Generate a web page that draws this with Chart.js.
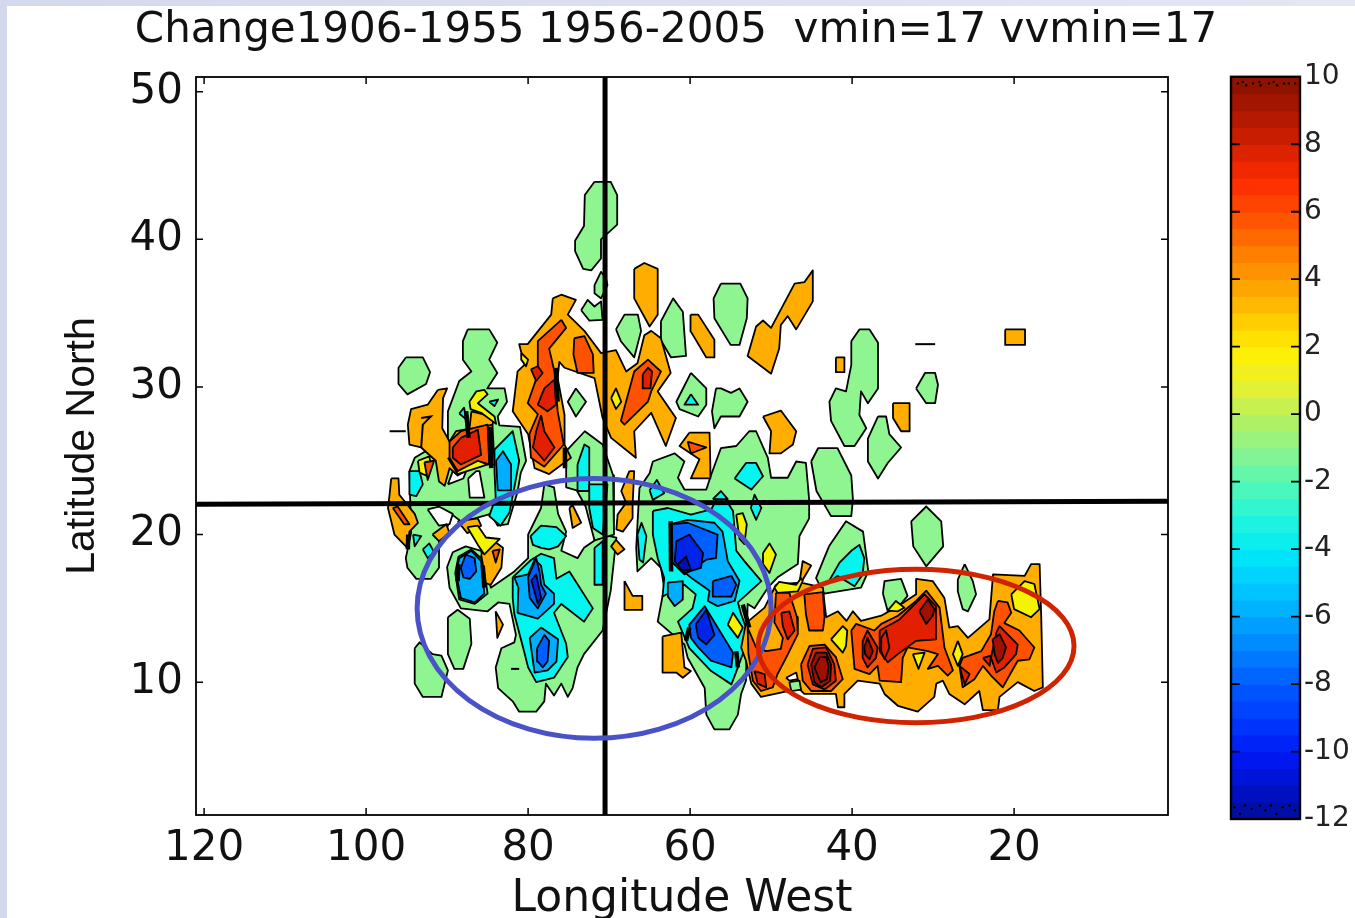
<!DOCTYPE html>
<html><head><meta charset="utf-8">
<style>
html,body{margin:0;padding:0;width:1355px;height:918px;overflow:hidden;background:#fff}
#bgTop{position:absolute;left:0;top:0;width:1355px;height:6px;background:linear-gradient(90deg,#d3d9ec,#e4e7f2)}
#bgLeft{position:absolute;left:0;top:0;width:7px;height:918px;background:#d3d9ec}
#main{position:absolute;left:7px;top:6px;filter:blur(0.5px)}
#bar{position:absolute;left:1200px;top:56px;filter:blur(0.5px)}
</style>
<script src="https://cdn.jsdelivr.net/npm/chart.js@4"></script>
</head><body>
<div id="bgTop"></div><div id="bgLeft"></div>
<canvas id="main" width="1338" height="920"></canvas>
<canvas id="bar" width="155" height="790"></canvas>
<script>
const titleText = "Change1906-1955 1956-2005  vmin=17 vvmin=17";
const xTitle = "Longitude West", yTitle = "Latitude North";
const lonTicks = [120,100,80,60,40,20];
const latTicks = [10,20,30,40,50];
const barTicks = [10,8,6,4,2,0,-2,-4,-6,-8,-10,-12];

// contour regions, [longitude west, latitude north], per level
const levelM1 = [
 [[71.8,43.9],[69.8,43.9],[69,43],[69,41],[71,40],[71,38.7],[72.2,37.9],[73.2,38],[74.2,39.2],[74.2,39.9],[73.1,40.9],[73,43]],
 [[95.1,32],[93,32],[92.1,31],[92.6,30.2],[94.9,29.5],[96,30.2],[96,31.3]],
 [[87.45,33.9],[84.8,33.9],[83.8,33],[84.8,31.85],[83.8,30.95],[85.05,29.9],[82.9,29.9],[82.6,29],[83.75,28],[83.55,27.4],[81,27.3],[80.25,25],[80.9,24.2],[81.3,22.9],[82.5,20.7],[83.75,20.6],[84.6,21.4],[86.6,21.1],[88.3,20.9],[89.5,21.4],[89.9,20.6],[91,19.55],[91,17.75],[92,17],[93.8,17],[94.9,17.75],[95.1,18.4],[94.45,20.1],[94.65,24.3],[94,25.2],[89.9,26.55],[89.9,28.35],[88.5,30.4],[87,31.05],[88.05,31.85],[88.05,33.1]],
 [[78,23.4],[76.8,23.2],[76.3,21.4],[75.3,20.2],[75.9,18.9],[73.9,18.4],[73.1,19.1],[71.8,19.6],[70.8,20],[69.1,19.8],[69.8,16.2],[70.8,13.5],[73.1,11.9],[73.9,11],[74.5,9.6],[75.1,9],[75.9,9.9],[76.8,9.1],[77.8,9.9],[78,8.7],[79,8],[81.1,8],[81.9,8.7],[83.7,9.6],[84,11],[83.3,12.3],[81.7,12.7],[81.5,13.2],[82.3,15.3],[83.7,15.4],[85,14.8],[88.3,15],[89.7,16.4],[90,17.8],[89.3,18.8],[87.7,19.2],[85.8,18.9],[84.6,16.4],[81.7,17.5],[80,18.4],[80,20],[78.4,21.8]],
 [[75.3,25.65],[73,27],[70.8,26.1],[69.5,24],[69.4,20],[71.8,19.6],[72.9,21.9],[74,23],[75.3,23.2]],
 [[89.9,14.4],[88.7,14.9],[87.2,14.3],[87,12.6],[88,10.9],[89.1,10.9],[89.9,11.9]],
 [[94,12.3],[93.4,12.7],[91.8,11.9],[90.7,11.8],[89.9,10.8],[90.7,9],[93,9],[94,9.9]],
 [[74.1,29.9],[72.85,29],[74.1,28],[75.1,29]],
 [[73.45,35.2],[72.65,35.9],[71.8,35.45],[71,35.8],[70.8,34.55],[72.45,34.5]],
 [[71.8,36.9],[71,37.8],[70.4,37.4],[70.2,36.9],[71,36],[71.8,36.35]],
 [[69.15,33.9],[68.1,34.9],[66.45,34.9],[66.05,33.8],[66.9,32],[68.55,33.1]],
 [[63.6,34.45],[62.1,36],[60.9,35.1],[60.5,32.1],[62.35,32],[63.65,33.2]],
 [[56.2,37],[53.8,37],[52.9,36],[53,34.66],[53.9,32.85],[55,32.85],[57,34.66],[57.1,36]],
 [[56.8,29.9],[56.2,29.9],[54.95,29.6],[53.9,29.9],[52.9,29],[53.9,28],[56.2,28],[57,27.2],[57.3,28.35]],
 [[59.9,30.95],[58,29.9],[58,28.8],[59,28],[61.3,28.5],[61.7,29]],
 [[65,24.15],[64.6,24.95],[61.9,25.5],[60.7,24.95],[61.5,23.85],[60.7,23.05],[58,23.05],[57.4,24.05],[56.2,25.85],[54.3,26],[52.7,27],[51.85,27],[50.4,25.2],[50,23.85],[47.95,23.85],[46.9,24.95],[45.7,24.85],[45.3,22.35],[45.3,21.1],[46.5,19.9],[46.7,18],[49.2,17.1],[50.4,16.4],[52.05,15],[52.9,15.3],[53.1,10.1],[53.7,9.2],[54.1,7.8],[55.15,6.8],[57,6.8],[58,7.8],[58.2,9.6],[60.3,11.65],[60.7,12.55],[64,14.1],[63.2,16.4],[63.6,17.75],[64.8,18.4],[66.5,17.5],[66.65,19.1],[66.5,20.7],[66.25,23.15]],
 [[45.05,24.95],[44.2,25.85],[41.8,25.85],[40.1,24],[39.9,22.4],[40.1,21.25],[42.6,21.25],[44.4,22.95]],
 [[42.85,19.2],[40.75,20.9],[38.65,20.2],[38,17.5],[38.9,16.4],[43.45,16],[44.45,17.05],[43.6,18.2]],
 [[32.7,20.9],[30.85,21.9],[29,20.9],[28.75,19.2],[30.85,17.85],[32.45,19.2]],
 [[40.1,33.1],[39.1,33.9],[37.85,33.9],[36.8,33],[36.8,29.9],[38.05,28.9],[38.9,29.7],[39.1,28.1],[38.25,27.2],[39.7,26],[40.95,26],[42.6,27.7],[42.8,29],[42,29.9],[40.75,29.7],[40.1,31.5]],
 [[36.8,28],[35.8,28],[35.4,26.8],[33.95,25.9],[35.6,24.85],[36.8,23.8],[38.05,24.95],[38.05,26.5]],
 [[32.1,29.9],[31,30.95],[29.75,30.95],[29.4,30.15],[29.75,28.9],[30.85,28.9]],
 [[36.2,16],[36,16.85],[33.95,17],[33.15,15.85],[34.35,15.05],[35.6,14.8]],
 [[26.1,18],[25.1,16.85],[24.7,15.95],[25.7,14.8],[26.35,14.95],[26.95,16.15],[26.95,16.95]]
];
const gaps = [
 [[92.4,21.7],[91,21.9],[89.3,21.4],[89.7,20.7],[91,20.6]],
 [[89.9,23.4],[88,23.8],[87.65,24.3],[89.3,24.3]],
 [[87.4,23.8],[86.4,24.3],[86,24.3],[85.4,22.5],[87.2,22.5]]
];
const levelM3 = [
 [[79.7,19.9],[78.4,20.6],[76.5,20.5],[75.3,19.9],[76.3,19.2],[77.4,19],[78.4,19.1],[79.4,19.3]],
 [[81.9,17.1],[79.6,18.3],[78.4,18.7],[76.8,18.4],[76.5,17],[74.9,17.5],[72,15],[73.1,14.1],[75.9,15.3],[76.8,14.7],[75.3,12.6],[75.1,11.7],[76.8,10.3],[79,10],[80,11],[80.5,12.1],[81.7,14.6],[81.9,15.7]],
 [[89,17.4],[88.6,18.5],[87,19],[85.6,18.3],[85,16],[86.6,15.3],[88.5,15.6]],
 [[94.65,24.3],[93.4,24.3],[93,23.4],[93.8,22.6],[94.65,22.7]],
 [[93,19],[92.2,19.4],[91.6,18.8],[92.4,18.4]],
 [[94.2,20],[93.2,19.9],[94,19.2]],
 [[84.15,25.75],[81.9,27],[81.1,25],[81.7,23.2],[82.3,21.5],[83.4,20.6],[84.8,21.25],[84,22.5],[84.15,24.3]],
 [[84.8,29],[83.7,29.15],[84.15,28.7]],
 [[88.5,28.2],[87.9,28.6],[87.65,27.8]],
 [[73.9,24.75],[73.05,26.1],[72.45,25.9],[72.45,22.95],[73.9,22.95]],
 [[72.45,23.4],[70.2,23.4],[70.8,20],[72,20.45],[72.45,21.8]],
 [[71.8,19.1],[70.8,19.55],[70.8,16.6],[71.8,16.6]],
 [[59.9,29.5],[59,28.8],[60.7,28.8]],
 [[64.6,21.6],[62.75,21.8],[59.9,21.35],[57.4,21.7],[56.2,22.9],[54.7,21.6],[54.3,18.9],[53.3,18.2],[51.2,16.85],[53.1,15.9],[54.1,15.4],[53.7,14.6],[52.7,13.1],[54.1,11],[54.9,9.85],[57.4,10.75],[60.1,12.3],[61.5,14.1],[59.7,15],[59.3,15.95],[60.7,16.6],[63.4,15.8],[63.2,17.05],[64,18.4],[64.6,20]],
 [[66.5,20],[66,20.8],[65.4,19.9],[65.8,18.1],[66.25,18.3]],
 [[54.5,23.8],[53.1,24.85],[51.85,24.85],[51,23.95],[52.45,23.05]],
 [[65,23],[64.1,23.7],[63.2,22.8],[64.6,22.35]],
 [[57.2,22.4],[56.2,22.95],[55.35,22.4]],
 [[52.5,21.8],[52.05,22.7],[51.2,21.8],[51.85,21]],
 [[43,16.7],[41.55,18.1],[40.1,18.9],[39.1,19.3],[38.5,18.4],[38.7,17.3],[39.7,16.5],[41.8,17.2]]
];
const levelM5 = [
 [[81.7,17.1],[80,17.3],[79.2,18.3],[78.4,17.9],[78,16.6],[76.8,16],[76.8,15.3],[78.8,14.3],[81.3,14.7],[81.2,16.4]],
 [[79.8,13],[78.4,13.7],[76.3,12.9],[76.5,11.4],[77.6,10.8],[79.2,10.65]],
 [[88.9,17.4],[88.5,18.4],[87,18.9],[85.8,18.2],[85.4,16],[86.6,15.4],[88.3,15.7]],
 [[83.95,25],[83.1,25.65],[82.1,24.75],[82.1,23],[83.75,23]],
 [[62.35,20.7],[60.3,21],[57,20.8],[56,20.2],[55.35,18.2],[53.9,16.85],[54.5,15.5],[56.6,15.15],[57.8,15.5],[57.6,16.2],[59.7,17],[62.35,18.2]],
 [[62.75,16.75],[60.9,16.85],[60.9,15.6],[61.9,15.15],[62.75,15.8]]
];
const levelM7 = [
 [[80,17.1],[79,18.4],[78.6,17.5],[78.4,16.6],[77.8,16],[78.8,15],[79.8,15.7]],
 [[78.9,12.3],[78,13.2],[77.4,12.8],[77.6,11.4],[78.2,11],[78.8,11.4]],
 [[88.3,17.75],[87.7,18.65],[86.6,18.4],[86.4,17.5],[87.2,17],[88,17.1]],
 [[62.35,20.7],[60.3,20.8],[56.6,20],[56.8,18.4],[58,18.3],[60.7,17.3],[62.35,18.2]],
 [[57.2,16.85],[54.9,17.2],[54.3,16.6],[54.9,15.8],[57.2,15.8]],
 [[59.9,13],[60.1,13.9],[58.2,15.15],[56.6,13.7],[54.7,12],[54.9,11],[57.4,11.45],[59,12.35]]
];
const levelM9 = [
 [[79.6,16.9],[79,17.3],[78.4,15.7],[78.8,15.3]],
 [[61.7,19.55],[60.1,20],[58.4,18.75],[58.65,17.75],[60.7,17.4],[61.9,18.2]],
 [[59.3,13.9],[58,14.9],[57,13.2],[58,12.55],[59,13]]
];
const levelM11 = [
 [[61.5,18],[60.5,18.5],[59.9,17.6],[61.1,17.6]]
];
const level3 = [
 [[91.15,29.8],[90,29.9],[90.5,29.25],[90.6,27.2],[89.7,26.3],[88.9,27],[87,27.2],[85,27.6],[84.4,27.45],[84.15,24.75],[86.2,24.75],[88.7,24],[89.7,24.5],[90.3,23.3],[91,23.6],[91.4,25],[93.2,25.9],[94.65,26.1],[94.85,27.45],[94.45,28.5],[92.4,28.8]],
 [[87,28.35],[84.15,27.95],[84.4,27.45],[87.25,27.1]],
 [[76.95,36],[75.9,36.25],[74.1,35.9],[75.1,34.9],[73.05,33.8],[71,32.3],[69.15,32.5],[67.9,31.05],[66.5,31.6],[65.65,33.5],[64.8,33.8],[63.6,33.3],[62.4,30.95],[64,29.7],[61.75,27.9],[63,26],[64.8,28.25],[66.9,27],[66.7,25.2],[69.75,26.55],[70.8,27.9],[71.8,30.6],[75.5,31.3],[76.15,31.7],[76.35,30.6],[75.5,28.1],[75.5,26.1],[74.7,25.2],[77.4,24.1],[79.2,24.5],[80,26.8],[81.9,28.35],[81.3,31.05],[80.45,31.5],[81.1,32.9],[80.05,32.9],[77.15,34.9]],
 [[66.9,38],[65.65,38.4],[64,38],[64,34.9],[65,34.1],[66.9,36]],
 [[59.95,34.9],[59,34.9],[57,33.2],[57,32],[58,32],[59.9,33.75]],
 [[44.85,37.9],[44.85,35.8],[46.9,33.9],[47.95,34.8],[48.8,34.2],[49,32.6],[50,30.9],[52.9,32.1],[51.85,34.1],[51,34.5],[50,34],[47.1,37],[45.9,37.1]],
 [[51,28],[48.8,28.4],[46.9,27],[47.3,26.1],[48.8,25.5],[50.2,25.5],[50,27]],
 [[60.1,26.9],[57.6,26.9],[57.5,24.7],[57.5,23.8],[59.9,23.8],[58.85,25.1],[61.3,26]],
 [[42,32],[40.95,32],[40.95,31],[42,31]],
 [[34.95,28.9],[32.9,28.9],[32.9,27],[33.95,27],[34.95,27.9]],
 [[21.1,33.9],[18.65,33.9],[18.65,32.85],[21.1,32.85]],
 [[96.9,23.8],[96,23.8],[95.9,22.7],[94,21.4],[93.6,20.8],[94.65,20.2],[94.9,19.1],[96.5,20],[97.3,21.8],[97.1,22.7]],
 [[85.8,18.65],[84.2,19.55],[83.1,19.1],[83.3,17.75],[84.6,16.6],[85.2,16.7]],
 [[88.7,20.9],[86.2,21.1],[85.8,20.6],[87.5,20.1]],
 [[91.8,20],[90.1,20.7],[89.7,20.1],[91,19.55]],
 [[84,14.8],[83.1,13.9],[83.8,13]],
 [[68.1,16.85],[67.1,15.85],[65.9,15.85],[65.9,14.9],[68.1,14.9]],
 [[67.5,24.3],[66.9,24.3],[67.1,22],[67.1,21.1],[68.3,20.2],[69.1,20.35],[68.95,21.35],[67.9,22.15],[68.5,22.95]],
 [[69.15,19.65],[68.1,19],[68.95,18.65],[69.75,19.2]],
 [[74.9,21.8],[74.5,22],[73.45,20.8],[74.5,20.45]],
 [[63.4,13.1],[61.1,13.35],[60.7,11],[59.9,10.75],[60.9,10.3],[61.7,10.65],[63.4,10.65]],
 [[49.4,16.6],[46.5,16.75],[46.1,18.2],[45.05,17.9],[46.3,16.75],[43.6,16.4],[43.4,15.3],[43.2,14.4],[41.75,14.8],[40.7,14.15],[39.9,14.8],[38.9,14.15],[36.4,14.5],[34.35,15.15],[32.1,15.95],[32.1,17],[30.05,16.85],[28.6,15.7],[28,13.7],[26.95,13.8],[25.7,13],[23.05,14.25],[22.6,17.3],[18.7,17.2],[17.9,18],[16.85,18],[16.65,14.4],[16.45,9.65],[17.5,9.4],[19.55,10],[21.8,9],[22,8.1],[23.85,8.1],[24.3,9.4],[26.1,8.5],[28,9.2],[28.8,10.1],[29.6,9.9],[29.85,9],[31.9,8],[34.35,8.4],[36,9.2],[36.6,9.9],[39.3,10.1],[40.95,9.2],[40.95,8.3],[41.75,8.3],[42,9.2],[45.9,9.2],[46.7,9.65],[47.95,9.4],[51.25,9],[52.45,9.9],[53.1,11.45],[53.7,12.35],[53.1,14],[50.8,15.05]]
];
const level1 = [
 [[89.9,25.2],[88.7,24.1],[85.8,24.6],[85,24.75],[86.2,25],[88.7,24.4]],
 [[87.25,29],[86.4,29.7],[85.4,29.8],[85,29.5],[86.2,28.9],[84.15,28],[83.95,27.5],[85.8,28.25],[87.1,28.5]],
 [[93.6,25],[92.2,25.3],[92,24.75],[92.6,24],[93.4,24.2]],
 [[87.5,20.5],[86.2,20.6],[85.2,19.8],[83.5,19.7],[85.4,18.65],[86.2,19.3]],
 [[80.85,32.3],[80,31.85],[80.25,31.4],[80.85,31.85]],
 [[69.75,29.25],[69.15,29.9],[68.5,29],[69.15,28.5]],
 [[55.35,13.9],[54.7,14.7],[53.5,13.7],[54.1,13]],
 [[54.3,21.35],[53.5,21.45],[53,20.7],[53.3,19.35],[53.9,19.7]],
 [[51,18.75],[50.2,19.4],[49.4,18.65],[50.2,17.4],[51,18]],
 [[49.6,16.4],[49,16.8],[46.9,16.6],[46.3,17.05],[46.1,16.85],[46.7,16.15],[49.2,16.05]],
 [[20.35,15.95],[18.7,16.85],[17.5,16.65],[16.85,14.95],[17.9,14.4],[20,14.95]],
 [[42.6,12.9],[41.15,13.8],[40.6,13.5],[40.75,12.45],[41.15,12]],
 [[35.6,14.85],[34.6,15.5],[33.55,15.05],[34.35,14.8]],
 [[26.95,12.8],[26.35,11.9],[26.95,11.1],[27.55,11.9]],
 [[32.5,11.9],[31.05,12],[31.8,10.9]]
];
const orangeGaps = [
 [[48.15,10.3],[46.9,10.65],[46.7,10.2],[47.75,10.1]]
];
const lateM1 = [
 [[47.75,10],[46.5,10.1],[46.3,9.5],[47.5,9.4]]
];
const level5 = [
 [[89.7,26.3],[88.3,27],[85,27.45],[84.8,24.75],[86.2,25],[88.7,24.3],[89.7,25.2]],
 [[75.9,34.55],[75.3,34],[77.4,32.6],[76.75,31.05],[76.35,28.35],[75.6,26.1],[78,24.6],[79.65,25.2],[79.85,26.8],[78.8,28.15],[80.05,28.9],[78.8,30.85],[78.8,33.1]],
 [[74.3,33.3],[73.05,33.45],[72,32.2],[71.9,30.95],[73.9,30.95],[74.4,32.2]],
 [[68.55,27.7],[66.9,31.05],[65.2,31.85],[63.6,31.05],[64.8,29.7],[65.2,29],[68.1,27.45]],
 [[60.3,26.3],[58,25.9],[59.9,25.5]],
 [[96.7,21.8],[96.1,21.9],[94.65,20.7],[95.3,20.7]],
 [[84.4,18.9],[83.5,19],[84,18.1]],
 [[92.8,24.9],[91.6,25],[92.4,23.7]],
 [[45.9,15.95],[43.6,16.1],[43.4,14.4],[43.6,13.5],[45.3,13.5],[45.7,14.6]],
 [[49.4,16.05],[47.75,16.05],[46.8,14.4],[46.7,13.25],[48.15,11.65],[49.2,10.55],[49.8,9.65],[51.25,9.4],[52.25,10.1],[52.8,11.9],[52.9,13.7],[51.85,12.35],[50.6,12.1],[48.8,12.25],[48.55,13],[49.6,14.05]],
 [[46.3,11.2],[45.25,12.45],[43.4,12.55],[42,11.7],[41.15,10.2],[42.6,9.4],[45.05,9.4],[46.1,10.1]],
 [[40.1,13.5],[39.5,13.95],[37.25,13.5],[36.4,13.95],[34.35,14.5],[32.1,15.5],[30.85,16.2],[29.2,15.05],[28.6,12.35],[27.55,10.8],[28.2,10.45],[29.4,11.1],[30.65,10.9],[29.4,11.9],[30.65,12.1],[33.15,12.35],[33.75,11.65],[33.95,10],[36.6,10.1],[36.85,11.1],[37.85,10.55],[39.7,10.9]],
 [[22,15.5],[20.8,15.4],[20.35,14.7],[21.2,14],[19.35,13.5],[17.5,12.35],[18.1,11.55],[19.55,11.45],[21.4,9.65],[22.85,10.45],[23.85,11.1],[24.9,10.2],[26.35,9.65],[26.75,11.1],[26.35,11.65],[24.05,12.1],[22.85,13.25],[22.45,14.8]]
];
const level7 = [
 [[89.3,25.9],[88.3,26.55],[86.2,27.1],[85.8,25.4],[88.3,24.75],[89.3,25.2]],
 [[78,29.9],[76.75,30.5],[76.55,28.8],[77.6,28.35],[78.8,28.8]],
 [[78.4,28.1],[78,27],[76.75,25.9],[78,25],[79.4,25.9],[79,27]],
 [[79.65,31.2],[78.8,31.4],[78.2,30.95],[79,30.4]],
 [[65.85,30.85],[65.2,31.3],[64.7,31.05],[64.9,29.9],[65.85,29.9]],
 [[48.75,14.7],[47.75,14.8],[47.1,13.5],[47.95,12.9],[48.55,13.8]],
 [[52.05,10.75],[50.8,10.55],[50.6,9.65],[51.65,9.9]],
 [[45.5,11.2],[44.85,12.25],[43.2,12.35],[42.2,11.2],[42,10.1],[43.4,9.5],[44.85,9.85]],
 [[36.6,13.5],[34.15,14.25],[31.05,15.95],[29.65,15.15],[29.65,12.9],[32.1,12.8],[34.35,11.9],[35.6,11.35],[36.6,12.1]],
 [[38.7,12.8],[38.1,13.5],[36.85,12.35],[37.05,11.65],[38.1,11],[38.7,11.65]],
 [[36.4,13],[35.8,13.5],[35.4,12.35],[36,11.55],[36.4,12.1]],
 [[22.2,13.35],[21.8,13.8],[19.55,12.55],[19.75,11.9],[21.2,11],[22.2,10.65],[22.85,11.65]],
 [[26.75,11.1],[25.5,10.55],[26.1,9.85]],
 [[23.85,11.65],[22.85,11.8],[23,11.1]]
];
const level9 = [
 [[45.05,11.2],[44.45,12],[43.2,12],[42.6,11.2],[42.7,10.1],[43.8,9.65],[44.65,10]],
 [[44.65,11],[44,11.7],[43.2,11.7],[42.9,11.1],[43.1,10.2],[43.9,10]],
 [[31.7,14.8],[30.65,15.6],[29.85,14.95],[30.05,14.5],[30.85,13.95]],
 [[38.5,12.35],[38.1,13],[37.45,12.1],[37.85,11.55],[38.4,11.9]],
 [[22.65,12.9],[21.8,13.25],[21,12.35],[21.4,11.65],[22,11.3],[22.4,11.9]]
];
// open contour fragments and tightly packed contour bundles
const thinContours = [
 [[82.1,10.9],[81.1,10.9]],
 [[32.2,32.9],[29.75,32.9]],
 [[97.1,27],[95.1,27]],
 [[93.2,27.9],[92,28],[93,27.45],[93.2,25.9]]
];
const packedContours = [
 [[87.65,28.35],[87.35,26.55]],
 [[84.65,27.3],[84.55,24.5]],
 [[76.55,31.3],[76.35,29]],
 [[75.45,25.9],[75.45,24.5]],
 [[85.6,17.9],[85.4,16.4]],
 [[88.6,18],[88.7,16.85]],
 [[94.8,20],[94.85,19]],
 [[62.4,20.9],[62.35,17.5]],
 [[60.5,12.8],[60.1,13.7]],
 [[54.3,12.1],[54.1,11]],
 [[53.5,15.25],[52.7,13.7]]
];
const crossLon = [[70.5,51],[70.5,1]];
const crossLat = [[121,22.05],[1,22.25]];
const blueEllipse = {lon:71.85,lat:15.0,rLon:21.85,rLat:8.8};
const redEllipse = {lon:32.1,lat:12.45,rLon:19.5,rLat:5.2};

// colour scale stops for the colour bar: value, colour
const barValues = [10,9,8,7,6,5,4,3,2,1,0,-1,-2,-3,-4,-5,-6,-7,-8,-9,-10,-11,-12];
const barColors = ['#8a1000','#b01800','#d82000','#ff2c00','#ff5000','#ff7a00','#ffa000','#ffc800','#fff000','#e8f030','#b4f060','#88f490','#50f8b8','#20f4dc','#00e8f8','#00c8ff','#00a4ff','#007cff','#0058ff','#0038ff','#0018f4','#0010c8','#000c90'];

const fillColors = {M1:'#8ef590',M3:'#00f6ee',M5:'#00aeff',M7:'#0060ff',M9:'#0024e8',M11:'#0010b0',
  P1:'#f4f400',P3:'#ffae00',P5:'#ff5200',P7:'#e22000',P9:'#a01000',none:'#ffffff'};

const pts = a => a.concat([a[0]]).map(p => ({x:p[0],y:p[1]}));
const contourSets = [];
function add(list,key,label){ list.forEach((poly,i)=>contourSets.push({
  label:label+' #'+(i+1),data:pts(poly),showLine:true,fill:'shape',backgroundColor:fillColors[key],
  borderColor:'#000',borderWidth:1.8,pointRadius:0,tension:0,borderJoinStyle:'round'})); }
add(levelM1,'M1','-2..0');
add(gaps,'none','no data');
add(levelM3,'M3','-4..-2');
add(levelM5,'M5','-6..-4');
add(levelM7,'M7','-8..-6');
add(levelM9,'M9','-10..-8');
add(levelM11,'M11','-12..-10');
add(level3,'P3','2..4');
add(level1,'P1','0..2');
add(orangeGaps,'none','no data');
add(lateM1,'M1','-2..0');
add(level5,'P5','4..6');
add(level7,'P7','6..8');
add(level9,'P9','8..10');
const lineSet=(a,w,label,color)=>({label,data:a.map(p=>({x:p[0],y:p[1]})),showLine:true,fill:false,borderColor:color||'#000',borderWidth:w,pointRadius:0,tension:0});
thinContours.forEach((a,i)=>contourSets.push(lineSet(a,2,'contour '+i)));
packedContours.forEach((a,i)=>contourSets.push(lineSet(a,4.5,'packed '+i)));
contourSets.push(lineSet(crossLon,5,'lon 70'));
contourSets.push(lineSet(crossLat,5,'lat 22'));
contourSets.forEach((d,i)=>{d.order=-i;});

const innerTicks = {id:'innerTicks',afterDraw(c,_,o){
  const {ctx,chartArea:a}=c; ctx.save(); ctx.strokeStyle='#000'; ctx.lineWidth=o.width||1.5;
  const L=o.len||7;
  ctx.beginPath();
  if(c.scales.x.options.display!==false) c.scales.x.ticks.forEach(t=>{const p=c.scales.x.getPixelForValue(t.value);
     ctx.moveTo(p,a.bottom);ctx.lineTo(p,a.bottom-L);ctx.moveTo(p,a.top);ctx.lineTo(p,a.top+L);});
  c.scales.y.ticks.forEach(t=>{const p=c.scales.y.getPixelForValue(t.value);
     ctx.moveTo(a.left,p);ctx.lineTo(a.left+L,p);ctx.moveTo(a.right,p);ctx.lineTo(a.right-L,p);});
  ctx.stroke();
  ctx.lineWidth=o.frame||1.8; ctx.strokeRect(a.left,a.top,a.right-a.left,a.bottom-a.top);
  ctx.restore();
}};
const ellipses = {id:'ellipses',afterDatasetsDraw(c){
  const {ctx,scales:{x,y}}=c;
  [[blueEllipse,'#4a52c8'],[redEllipse,'#d02400']].forEach(([e,col])=>{
    const cx=x.getPixelForValue(e.lon),cy=y.getPixelForValue(e.lat);
    const rx=Math.abs(x.getPixelForValue(e.lon+e.rLon)-cx),ry=Math.abs(y.getPixelForValue(e.lat+e.rLat)-cy);
    ctx.save();ctx.strokeStyle=col;ctx.lineWidth=5;ctx.beginPath();ctx.ellipse(cx,cy,rx,ry,0,0,Math.PI*2);ctx.stroke();ctx.restore();
  });
}};

new Chart(document.getElementById('main'),{
  type:'scatter',
  data:{datasets:contourSets},
  plugins:[ellipses,innerTicks],
  options:{
    responsive:false,animation:false,events:[],
    layout:{padding:0},
    plugins:{
      legend:{display:false},tooltip:{enabled:false},
      filler:{propagate:false},
      innerTicks:{len:7,width:1.5,frame:1.8},
      title:{display:true,text:titleText,color:'#111',font:{family:'DejaVu Sans',size:42,weight:'normal'},padding:{top:0,bottom:20.6}}
    },
    scales:{
      x:{type:'linear',reverse:true,min:1,max:121,
        afterBuildTicks(s){s.ticks=lonTicks.map(v=>({value:v}));},
        afterFit(s){s.height=111;},
        grid:{display:false,tickLength:0},border:{display:false},
        ticks:{color:'#111',maxRotation:0,autoSkip:false,font:{family:'DejaVu Sans',size:42},padding:9},
        title:{display:true,text:xTitle,color:'#111',font:{family:'DejaVu Sans',size:44},padding:{top:4.6,bottom:0}}
      },
      y:{type:'linear',min:1,max:51,
        afterBuildTicks(s){s.ticks=latTicks.map(v=>({value:v}));},
        afterFit(s){s.width=189;},
        grid:{display:false,tickLength:0},border:{display:false},
        ticks:{color:'#111',autoSkip:false,font:{family:'DejaVu Sans',size:42},padding:13},
        title:{display:true,text:yTitle,color:'#111',font:{family:'Liberation Sans',size:41},padding:{top:51,bottom:0}}
      },
      rightGap:{type:'linear',position:'right',display:true,min:0,max:1,
        afterBuildTicks(s){s.ticks=[];},
        afterFit(s){s.width=177;},
        grid:{display:false},border:{display:false},ticks:{display:false}}
    }
  }
});

// colour bar
const lerpHex=(a,b,t)=>{const h=s=>[1,3,5].map(i=>parseInt(s.substr(i,2),16));const A=h(a),B=h(b);
  return 'rgb('+A.map((v,i)=>Math.round(v+(B[i]-v)*t)).join(',')+')';};
const bandSets=[];
for(let k=0;k<barValues.length-1;k++){
  const hi=barValues[k],lo=barValues[k+1];
  [0,1].forEach(j=>bandSets.push({type:'bar',label:'band',
    data:[{x:0.5,y:[lo+(hi-lo)*(1-j)/2-0.01,lo+(hi-lo)*(2-j)/2+0.01]}],
    backgroundColor:lerpHex(barColors[k],barColors[k+1],(j*2+0.5)/4),borderWidth:0,barThickness:69,grouped:false,order:10}));
}
const dotsTop=[[0.1,9.8],[0.17,9.85],[0.22,9.75],[0.32,9.8],[0.41,9.85],[0.43,9.75],[0.55,9.8],[0.62,9.85],[0.67,9.75],[0.77,9.8],[0.84,9.8],[0.93,9.8]];
const dotsBottom=[[0.05,-11.65],[0.13,-11.85],[0.2,-11.6],[0.3,-11.7],[0.42,-11.6],[0.5,-11.75],[0.58,-11.6],[0.66,-11.85],[0.75,-11.65],[0.85,-11.6],[0.93,-11.75]];
bandSets.push({type:'scatter',label:'dots',data:dotsTop.concat(dotsBottom).map(p=>({x:p[0],y:p[1]})),pointRadius:1.2,pointBackgroundColor:'#000',pointBorderWidth:0,order:1});

new Chart(document.getElementById('bar'),{
  type:'bar',
  data:{datasets:bandSets},
  plugins:[innerTicks],
  options:{
    responsive:false,animation:false,events:[],
    layout:{padding:{left:31,right:0,top:16,bottom:27}},
    plugins:{legend:{display:false},tooltip:{enabled:false},innerTicks:{len:9,width:1.8,frame:2.4}},
    scales:{
      x:{type:'linear',min:0,max:1,offset:false,display:false,grid:{display:false}},
      y:{type:'linear',position:'right',min:-12,max:10,
        afterBuildTicks(s){s.ticks=barTicks.map(v=>({value:v}));},
        afterFit(s){s.width=55;},
        grid:{display:false,tickLength:0},border:{display:false},
        ticks:{color:'#222',autoSkip:false,crossAlign:'near',font:{family:'DejaVu Sans',size:28},padding:4}
      }
    }
  }
});
</script>
</body></html>
